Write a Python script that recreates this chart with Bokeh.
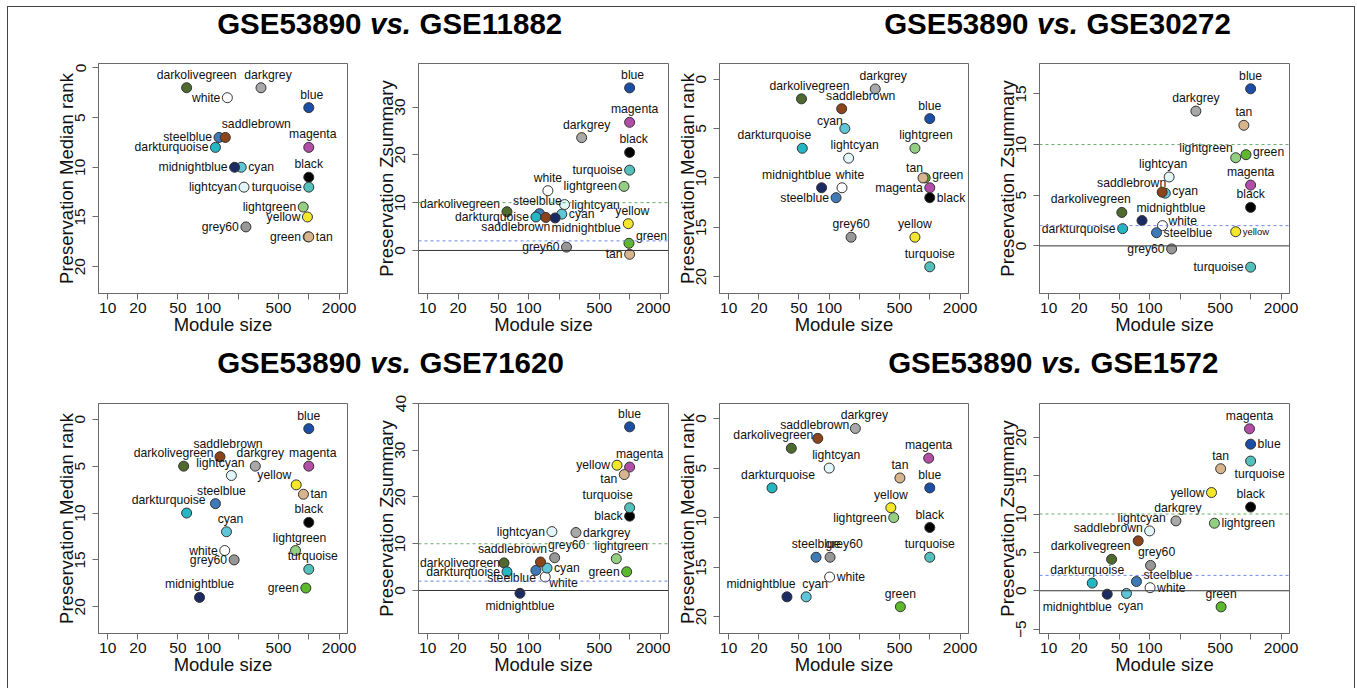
from bokeh.plotting import figure
from bokeh.models import Range1d, FixedTicker, Span, ColumnDataSource
from bokeh.layouts import row, column
from bokeh.embed import file_html
from bokeh.resources import INLINE
from bokeh.core.properties import value

# ---------------- data ----------------
modules = ["blue", "magenta", "darkgrey", "black", "turquoise", "lightgreen", "white",
           "lightcyan", "darkolivegreen", "steelblue", "cyan", "darkturquoise",
           "saddlebrown", "midnightblue", "yellow", "green", "grey60", "tan"]

# GSE53890 vs. GSE11882
size_11882 = [1000, 1000, 335, 1000, 1000, 880, 155, 227, 61, 128, 213, 118, 148, 183, 970, 985, 237, 1000]
rank_11882 = [4, 8, 2, 11, 12, 14, 3, 12, 2, 7, 10, 8, 7, 10, 15, 17, 16, 17]
z_11882 = [34.0, 26.8, 23.6, 20.5, 16.8, 13.4, 12.5, 9.6, 8.1, 7.7, 7.6, 7.0, 6.9, 6.8, 5.6, 1.5, 0.7, -0.8]

# GSE53890 vs. GSE30272
size_30272 = [1000, 1000, 287, 1000, 1000, 712, 134, 156, 53, 117, 143, 54, 133, 84, 712, 900, 165, 857]
rank_30272 = [4, 11, 1, 12, 19, 7, 11, 8, 2, 12, 5, 7, 3, 11, 16, 10, 16, 10]
z_30272 = [15.5, 6.0, 13.3, 3.8, -2.1, 8.7, 2.0, 6.8, 3.3, 1.3, 5.2, 1.7, 5.3, 2.5, 1.4, 9.0, -0.3, 11.9]

# GSE53890 vs. GSE71620
size_71620 = [1000, 1000, 294, 1000, 1000, 738, 146, 170, 57, 118, 152, 61, 131, 82, 750, 935, 181, 885]
rank_71620 = [1, 5, 5, 11, 16, 14, 14, 6, 5, 9, 12, 10, 4, 19, 7, 18, 15, 8]
z_71620 = [35.0, 26.4, 12.4, 15.9, 17.7, 6.8, 2.9, 12.6, 5.9, 4.3, 4.8, 4.0, 6.1, -0.6, 26.8, 4.0, 7.0, 24.8]

# GSE53890 vs. GSE1572
size_1572 = [1000, 975, 182, 1000, 1000, 438, 101, 100, 42, 74, 59, 27, 77, 38, 410, 510, 102, 505]
rank_1572 = [7, 4, 1, 11, 14, 10, 16, 5, 3, 14, 18, 7, 2, 18, 9, 19, 14, 6]
z_1572 = [19.1, 21.1, 9.1, 10.9, 16.9, 8.8, 0.4, 7.8, 4.1, 1.2, -0.35, 1.0, 6.5, -0.45, 12.8, -2.1, 3.3, 15.9]

x_ticks = [10, 20, 50, 100, 200, 500, 1000, 2000]
x_tick_labels = ["10", "20", "50", "100", "", "500", "", "2000"]
rank_ticks = [0, 5, 10, 15, 20]
titles = [("GSE53890", "vs.", "GSE11882"), ("GSE53890", "vs.", "GSE30272"),
          ("GSE53890", "vs.", "GSE71620"), ("GSE53890", "vs.", "GSE1572")]

# ---------------- styles ----------------
COLORS = {
    "blue": "#1b4ea6", "magenta": "#b24ea5", "darkgrey": "#a8a8a8", "black": "#000000",
    "turquoise": "#54c0bc", "lightgreen": "#92cf82", "white": "#ffffff", "lightcyan": "#e2f6f8",
    "darkolivegreen": "#4e6a2f", "steelblue": "#3f7ab6", "cyan": "#5fc6d8",
    "darkturquoise": "#25b6c4", "saddlebrown": "#8c451b", "midnightblue": "#1c2a64",
    "yellow": "#f3e62b", "green": "#5db82b", "grey60": "#979797", "tan": "#d8b48c",
}
FONT = "Liberation Sans"
LABEL_SIZE = "12.2px"
R = 5

L1 = {"blue": ("t", 3, 0), "magenta": ("t", 4, 0), "darkgrey": ("t", 7, 0), "black": ("t", 0, 0),
      "turquoise": ("l", 0, 0), "lightgreen": ("l", 0, 0), "white": ("l", 0, 0), "lightcyan": ("l", 0, 0),
      "darkolivegreen": ("t", 10, 0), "steelblue": ("l", 0, 0), "cyan": ("r", 0, 0),
      "darkturquoise": ("l", 0, 0), "saddlebrown": ("t", 31, 0), "midnightblue": ("l", 0, 0),
      "yellow": ("l", 0, 0), "green": ("l", 0, 0), "grey60": ("l", 0, 0), "tan": ("r", 0, 0)}
L2 = {"blue": ("t", 3, 0), "magenta": ("t", 5, 0), "darkgrey": ("t", 5, 0), "black": ("t", 4, 0),
      "turquoise": ("l", 0, 0), "lightgreen": ("l", 0, 0), "white": ("t", 0, 0), "lightcyan": ("r", 0, 0),
      "darkolivegreen": ("l", 0, -8), "steelblue": ("t", -2, 0), "cyan": ("r", 0, 0),
      "darkturquoise": ("l", 0, 0), "saddlebrown": ("b", -30, -3), "midnightblue": ("b", 31, -3),
      "yellow": ("t", 4, 0), "green": ("r", 0, -7), "grey60": ("l", 0, 0), "tan": ("l", 0, 0)}
L3 = {"darkgrey": ("t", 8, 0), "darkolivegreen": ("t", 8, 0), "saddlebrown": ("t", 19, 0), "blue": ("t", 0, 0),
      "cyan": ("l", 5, -8), "darkturquoise": ("t", -28, 0), "lightgreen": ("t", 11, 0), "lightcyan": ("t", 6, 0),
      "tan": ("l", 7, -10), "green": ("r", 0, -3), "midnightblue": ("t", -25, 0), "white": ("t", 8, 0),
      "magenta": ("l", 0, 0), "steelblue": ("l", 0, 0), "black": ("r", 0, 0), "grey60": ("t", 0, 0),
      "yellow": ("t", 0, 0), "turquoise": ("t", 0, 0)}
L4 = {"blue": ("t", 0, 0), "darkgrey": ("t", 0, 0), "tan": ("t", 0, 0), "lightgreen": ("l", 4, -10),
      "green": ("r", 0, -3), "lightcyan": ("t", -6, 0), "magenta": ("t", 0, 0), "saddlebrown": ("l", 11, -9),
      "cyan": ("r", 0, -2), "black": ("t", 0, 0), "darkolivegreen": ("t", -31, 0), "midnightblue": ("t", 29, 0),
      "white": ("r", -1, -5), "darkturquoise": ("l", 0, 0), "yellow": ("r", 0, 0, "9.5px"),
      "steelblue": ("r", 0, 0), "grey60": ("l", 0, 0), "turquoise": ("l", 0, 0)}
L5 = {"blue": ("t", 0, 0), "saddlebrown": ("t", 8, 0), "darkolivegreen": ("t", -10, 0), "darkgrey": ("t", 5, 0),
      "magenta": ("t", 4, 0), "lightcyan": ("t", -11, 0), "yellow": ("l", 2, -10), "tan": ("r", 0, 0),
      "steelblue": ("t", 6, 0), "darkturquoise": ("t", -18, 0), "black": ("t", 0, 0), "cyan": ("t", 4, 0),
      "lightgreen": ("t", 4, 0), "white": ("l", 0, 0), "grey60": ("l", 0, 0), "turquoise": ("t", 4, 0),
      "green": ("l", 0, 0), "midnightblue": ("t", 0, 0)}
L6 = {"blue": ("t", 0, 0), "magenta": ("t", 10, 0), "yellow": ("l", 0, 0), "tan": ("l", 0, 4),
      "turquoise": ("t", -22, 0), "black": ("l", 0, 0), "lightcyan": ("l", 0, 0), "darkgrey": ("r", 0, 0),
      "grey60": ("t", 12, 0), "lightgreen": ("t", 5, 0), "saddlebrown": ("t", -28, 0),
      "darkolivegreen": ("l", 3, 0), "cyan": ("r", 0, 0), "steelblue": ("l", 7, 8), "green": ("l", 0, 0),
      "darkturquoise": ("l", 0, 0), "white": ("r", -3, 6), "midnightblue": ("b", 0, 0)}
L7 = {"darkgrey": ("t", 9, 0), "saddlebrown": ("t", -3, 0), "darkolivegreen": ("t", -18, 0), "magenta": ("t", 0, 0),
      "lightcyan": ("t", 7, 0), "tan": ("t", 0, 0), "blue": ("t", 0, 0), "darkturquoise": ("t", 6, 0),
      "yellow": ("t", 0, 0), "lightgreen": ("l", 0, 0), "black": ("t", 0, 0), "steelblue": ("t", 0, 0),
      "grey60": ("t", 14, 0), "turquoise": ("t", 0, 0), "white": ("r", 0, 0), "midnightblue": ("t", -26, 0),
      "cyan": ("t", 9, 0), "green": ("t", 0, 0)}
L8 = {"magenta": ("t", 0, 0), "blue": ("r", 0, 0), "turquoise": ("b", 9, 0), "tan": ("t", 0, 0),
      "yellow": ("l", 0, 0), "black": ("t", 0, 0), "darkgrey": ("t", 2, 0), "lightgreen": ("r", 0, 0),
      "lightcyan": ("t", -8, 0), "saddlebrown": ("t", -30, 0), "darkolivegreen": ("t", -21, 0),
      "grey60": ("t", 6, 0), "darkturquoise": ("t", -5, 0), "steelblue": ("r", 0, -7), "white": ("r", 0, 0),
      "cyan": ("b", 4, 0), "midnightblue": ("b", -30, 0), "green": ("t", 0, 0)}

ALIGN = {"t": ("center", "bottom"), "b": ("center", "top"), "l": ("right", "middle"), "r": ("left", "middle")}


def make_panel(sizes, vals, yr, yticks, ylabel, labels, zlines, geom, h, top, bottom):
    w, left, right = geom
    p = figure(width=w, height=h, x_axis_type="log", x_range=Range1d(8.11, 2427),
               y_range=Range1d(*yr), output_backend="svg", toolbar_location=None,
               min_border_left=left, min_border_right=right, min_border_top=top,
               min_border_bottom=bottom)
    p.xgrid.visible = False
    p.ygrid.visible = False
    p.outline_line_color = "#6a6a6a"
    p.outline_line_width = 1
    p.background_fill_color = "white"
    p.border_fill_color = "white"

    for ax in (p.xaxis[0], p.yaxis[0]):
        ax.major_label_text_font = FONT
        ax.major_label_text_font_size = "15.5px"
        ax.major_label_text_color = "#111111"
        ax.axis_label_text_font = FONT
        ax.axis_label_text_font_size = "18.5px"
        ax.axis_label_text_font_style = "normal"
        ax.axis_label_text_color = "#111111"
        ax.major_tick_out = 6
        ax.major_tick_in = 0
        ax.minor_tick_line_color = None
        ax.axis_line_color = "#6a6a6a"
        ax.major_tick_line_color = "#6a6a6a"

    xa = p.xaxis[0]
    xa.ticker = FixedTicker(ticks=x_ticks)
    xa.major_label_overrides = {t: s for t, s in zip(x_ticks, x_tick_labels)}
    xa.axis_label = "Module size"
    xa.major_label_standoff = 3
    xa.axis_label_standoff = -2

    ya = p.yaxis[0]
    ya.ticker = FixedTicker(ticks=yticks)
    ya.axis_label = ylabel
    ya.major_label_orientation = "parallel"
    ya.major_label_standoff = 7
    ya.axis_label_standoff = -4

    if zlines:
        p.add_layout(Span(location=10, dimension="width", line_color="#66ad66",
                          line_dash="3 3", line_width=1))
        p.add_layout(Span(location=2, dimension="width", line_color="#6f88e8",
                          line_dash="3 3", line_width=1))
        p.add_layout(Span(location=0, dimension="width", line_color="#333333", line_width=1))

    src = ColumnDataSource(dict(x=sizes, y=vals, c=[COLORS[m] for m in modules]))
    p.scatter("x", "y", source=src, size=2 * R, fill_color="c", line_color="#333333",
              line_width=1)

    for pos in ("t", "b", "l", "r"):
        d = dict(x=[], y=[], text=[], xo=[], yo=[], fs=[])
        for m, sx, v in zip(modules, sizes, vals):
            spec = labels[m]
            if spec[0] != pos:
                continue
            dx, dy = spec[1], spec[2]
            fs = spec[3] if len(spec) > 3 else LABEL_SIZE
            bx, by = {"t": (0, -(R + 1)), "b": (0, R + 1), "l": (-(R + 2), 0), "r": (R + 2, 0)}[pos]
            d["x"].append(sx)
            d["y"].append(v)
            d["text"].append(m)
            d["xo"].append(bx + dx)
            d["yo"].append(by + dy)
            d["fs"].append(fs)
        if not d["x"]:
            continue
        al, bl = ALIGN[pos]
        p.text("x", "y", text="text", source=ColumnDataSource(d), x_offset="xo", y_offset="yo",
               text_align=al, text_baseline=bl, text_font=value(FONT), text_font_size="fs",
               text_color="#111111")
    return p


def make_title(w, h, xc, yc, parts):
    p = figure(width=w, height=h, x_range=Range1d(0, w), y_range=Range1d(0, h),
               output_backend="svg", toolbar_location=None, min_border=0,
               x_axis_location=None, y_axis_location=None)
    p.grid.visible = False
    p.outline_line_color = None
    y = h - yc
    common = dict(text_font=value(FONT), text_font_size="29.5px", text_baseline="middle",
                  text_color="#000000")
    p.text(x=[xc], y=[y], text=[parts[1]], text_align="center", text_font_style="bold italic", **common)
    p.text(x=[xc], y=[y], text=[parts[0]], x_offset=-29, text_align="right", text_font_style="bold", **common)
    p.text(x=[xc], y=[y], text=[parts[2]], x_offset=29, text_align="left", text_font_style="bold", **common)
    return p


# figure geometry: (width, min_border_left, min_border_right)
COLS = [(359, 90, 20), (303, 51, 2), (315, 49, 17), (369, 54, 65)]
H1, T1, B1 = 286, 9, 47
H2, T2, B2 = 298, 13, 55

rank_lab = "Preservation Median rank"
z_lab = "Preservation Zsummary"

p1 = make_panel(size_11882, rank_11882, (22.7, -0.44), rank_ticks, rank_lab, L1, False, COLS[0], H1, T1, B1)
p2 = make_panel(size_11882, z_11882, (-9.0, 39.1), [0, 10, 20, 30], z_lab, L2, True, COLS[1], H1, T1, B1)
p3 = make_panel(size_30272, rank_30272, (21.7, -1.58), rank_ticks, rank_lab, L3, False, COLS[2], H1, T1, B1)
p4 = make_panel(size_30272, z_30272, (-4.7, 18.0), [0, 5, 10, 15], z_lab, L4, True, COLS[3], H1, T1, B1)
p5 = make_panel(size_71620, rank_71620, (22.85, -1.68), rank_ticks, rank_lab, L5, False, COLS[0], H2, T2, B2)
p6 = make_panel(size_71620, z_71620, (-9.2, 40.0), [0, 10, 20, 30, 40], z_lab, L6, True, COLS[1], H2, T2, B2)
p7 = make_panel(size_1572, rank_1572, (21.7, -1.52), rank_ticks, rank_lab, L7, False, COLS[2], H2, T2, B2)
p8 = make_panel(size_1572, z_1572, (-5.57, 24.4), [-5, 0, 5, 10, 15, 20], z_lab, L8, True, COLS[3], H2, T2, B2)

WT1 = COLS[0][0] + COLS[1][0]
WT2 = COLS[2][0] + COLS[3][0]
t1 = make_title(WT1, 47, 382, 16, titles[0])
t2 = make_title(WT2, 47, 387, 16, titles[1])
t3 = make_title(WT1, 50, 382, 22, titles[2])
t4 = make_title(WT2, 50, 391, 22, titles[3])

layout = column(row(t1, t2), row(p1, p2, p3, p4), row(t3, t4), row(p5, p6, p7, p8),
                margin=(6, 0, 0, 7),
                styles={"border-left": "1px solid #444", "border-top": "1px solid #444",
                        "border-right": "1px solid #444"})

open("out.html", "w").write(file_html(layout, INLINE))
